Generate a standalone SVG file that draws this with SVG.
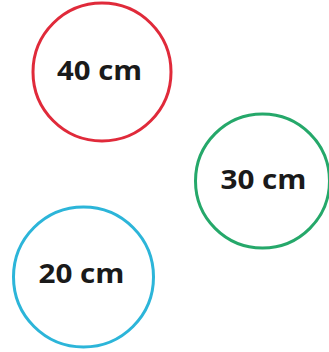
<svg xmlns="http://www.w3.org/2000/svg" width="329" height="352" viewBox="0 0 329 352">
<style>
.ring{fill:none;stroke-width:3}
.lbl{font-family:"Open Sans","Liberation Sans",sans-serif;font-weight:bold;font-size:26px;fill:#1a1a1a;text-anchor:middle}
</style>
<rect width="329" height="352" fill="#ffffff"/>
<g id="circle-40">
<circle class="ring" cx="102" cy="72" r="69" stroke="#e02a3a"/>
<text class="lbl" x="99.5" y="80" textLength="85" lengthAdjust="spacingAndGlyphs">40 cm</text>
</g>
<g id="circle-30">
<circle class="ring" cx="262.5" cy="181" r="67" stroke="#25a86a"/>
<text class="lbl" x="263.5" y="189" textLength="86" lengthAdjust="spacingAndGlyphs">30 cm</text>
</g>
<g id="circle-20">
<circle class="ring" cx="83.5" cy="277" r="70" stroke="#2cb5d9"/>
<text class="lbl" x="81.5" y="283" textLength="86" lengthAdjust="spacingAndGlyphs">20 cm</text>
</g>
<g id="connectors"/>
</svg>
